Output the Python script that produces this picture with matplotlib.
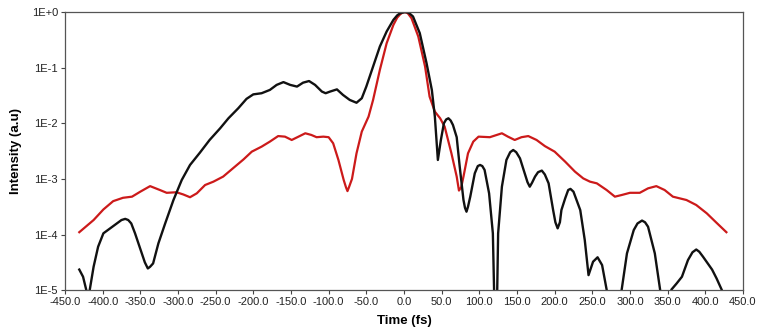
import matplotlib
matplotlib.use("Agg")
import matplotlib.pyplot as plt
from matplotlib.ticker import FixedLocator, FuncFormatter

# red trace: time (fs) and intensity (a.u)
red_t = [-431, -412, -399, -386, -373, -361, -350, -337, -324, -315, -302, -293,
         -284, -275, -264, -253, -240, -227, -213, -202, -189, -178, -167, -158,
         -149, -140, -131, -123, -116, -107, -100, -94, -87, -80, -77, -75, -73,
         -69, -63, -56, -47, -41, -32, -23, -14, -9, -5, -2, 1, 5, 10, 19, 28, 34,
         41, 48, 54, 63, 70, 73, 76, 79, 85, 92, 99, 114, 130, 138, 147, 156, 165,
         176, 187, 200, 214, 227, 238, 247, 256, 269, 280, 289, 300, 313, 324,
         335, 346, 357, 375, 388, 402, 415, 428]
red_i = [1.10e-4, 1.82e-4, 2.82e-4, 3.98e-4, 4.57e-4, 4.79e-4, 5.89e-4, 7.41e-4,
         6.31e-4, 5.62e-4, 5.75e-4, 5.25e-4, 4.68e-4, 5.50e-4, 7.76e-4, 8.91e-4,
         1.10e-3, 1.55e-3, 2.24e-3, 3.09e-3, 3.80e-3, 4.68e-3, 5.89e-3, 5.75e-3,
         5.01e-3, 5.75e-3, 6.61e-3, 6.17e-3, 5.62e-3, 5.75e-3, 5.62e-3, 4.37e-3,
         2.19e-3, 9.55e-4, 7.08e-4, 6.03e-4, 7.08e-4, 1.0e-3, 2.88e-3, 7.08e-3,
         1.32e-2, 2.63e-2, 9.12e-2, 0.275, 0.589, 0.794, 0.912, 0.977, 1.0, 0.955,
         0.776, 0.363, 0.105, 3.02e-2, 1.62e-2, 1.23e-2, 8.71e-3, 2.88e-3, 1.10e-3,
         6.17e-4, 7.08e-4, 1.10e-3, 2.88e-3, 4.68e-3, 5.75e-3, 5.62e-3, 6.61e-3,
         5.75e-3, 5.01e-3, 5.62e-3, 5.89e-3, 5.01e-3, 3.89e-3, 3.09e-3, 2.04e-3,
         1.35e-3, 1.02e-3, 8.91e-4, 8.32e-4, 6.31e-4, 4.79e-4, 5.13e-4, 5.62e-4,
         5.62e-4, 6.76e-4, 7.41e-4, 6.31e-4, 4.79e-4, 4.17e-4, 3.39e-4, 2.40e-4,
         1.62e-4, 1.10e-4]

# black trace
black_t = [-431, -426, -419, -412, -406, -399, -390, -381, -375, -370, -366, -362,
           -357, -348, -344, -340, -337, -333, -326, -317, -306, -295, -284, -271,
           -258, -244, -233, -220, -209, -200, -189, -178, -169, -160, -151, -142,
           -134, -126, -118, -109, -104, -98, -89, -81, -72, -63, -56, -50, -41,
           -32, -23, -14, -9, -5, 0, 3, 7, 12, 21, 30, 37, 41, 45, 49, 53, 56, 59,
           62, 65, 70, 74, 79, 81, 83, 85, 88, 94, 98, 101, 104, 107, 113, 118, 122,
           125, 130, 136, 141, 145, 149, 154, 161, 164, 167, 170, 174, 178, 183,
           187, 192, 198, 201, 204, 207, 209, 214, 218, 221, 225, 234, 240, 245,
           251, 257, 263, 269, 280, 289, 296, 305, 310, 316, 320, 324, 333, 340,
           348, 355, 362, 369, 377, 383, 388, 392, 397, 409, 415, 422, 428]
black_i = [2.34e-5, 1.74e-5, 7.1e-6, 2.63e-5, 6.03e-5, 1.05e-4, 1.29e-4, 1.58e-4,
           1.82e-4, 1.91e-4, 1.82e-4, 1.58e-4, 1.05e-4, 4.57e-5, 3.16e-5, 2.45e-5,
           2.63e-5, 3.02e-5, 6.92e-5, 1.58e-4, 4.17e-4, 9.55e-4, 1.78e-3, 2.95e-3,
           5.01e-3, 8.13e-3, 1.23e-2, 1.86e-2, 2.75e-2, 3.31e-2, 3.47e-2, 3.98e-2,
           4.90e-2, 5.50e-2, 4.90e-2, 4.57e-2, 5.37e-2, 5.75e-2, 4.90e-2, 3.72e-2,
           3.47e-2, 3.72e-2, 4.07e-2, 3.24e-2, 2.63e-2, 2.34e-2, 2.82e-2, 4.57e-2,
           0.105, 0.240, 0.447, 0.724, 0.871, 0.955, 0.99, 1.0, 0.955, 0.832, 0.417,
           0.120, 3.98e-2, 1.32e-2, 2.19e-3, 5.01e-3, 1.0e-2, 1.17e-2, 1.23e-2,
           1.12e-2, 9.33e-3, 5.62e-3, 1.66e-3, 4.17e-4, 3.02e-4, 2.57e-4, 3.16e-4,
           4.79e-4, 1.26e-3, 1.70e-3, 1.78e-3, 1.70e-3, 1.45e-3, 5.50e-4, 1.05e-4,
           3.2e-7, 1.05e-4, 7.24e-4, 2.19e-3, 3.02e-3, 3.31e-3, 3.02e-3, 2.34e-3,
           1.17e-3, 8.71e-4, 7.24e-4, 8.51e-4, 1.10e-3, 1.32e-3, 1.41e-3, 1.20e-3,
           8.32e-4, 2.75e-4, 1.66e-4, 1.29e-4, 1.66e-4, 2.75e-4, 4.47e-4, 6.31e-4,
           6.61e-4, 5.89e-4, 2.75e-4, 7.94e-5, 1.86e-5, 3.24e-5, 3.89e-5, 2.82e-5,
           1.02e-5, 1.6e-6, 1.02e-5, 4.57e-5, 1.20e-4, 1.58e-4, 1.78e-4, 1.66e-4,
           1.38e-4, 4.57e-5, 1.02e-5, 1.6e-6, 1.02e-5, 1.32e-5, 1.74e-5, 3.47e-5,
           4.79e-5, 5.37e-5, 4.90e-5, 3.98e-5, 2.34e-5, 1.62e-5, 1.0e-5, 5.0e-6]

x_ticks = [-450, -400, -350, -300, -250, -200, -150, -100, -50, 0,
           50, 100, 150, 200, 250, 300, 350, 400, 450]
y_ticks = [1e-5, 1e-4, 1e-3, 1e-2, 1e-1, 1e0]
y_labels = ["1E-5", "1E-4", "1E-3", "1E-2", "1E-1", "1E+0"]

plt.rcParams['font.family'] = ['Liberation Sans', 'DejaVu Sans']

fig = plt.figure(figsize=(7.68, 3.35), dpi=100)
ax = fig.add_axes([0.0846, 0.134, 0.8828, 0.830])

ax.plot(red_t, red_i, color='#cc1a1a', linewidth=1.6, solid_joinstyle='round')
ax.plot(black_t, black_i, color='#111111', linewidth=1.7, solid_joinstyle='round')

ax.set_yscale('log')
ax.set_xlim(-450, 450)
ax.set_ylim(1e-5, 1)

ax.xaxis.set_major_locator(FixedLocator(x_ticks))
ax.xaxis.set_major_formatter(FuncFormatter(lambda v, p: f"{v:.1f}"))
ax.xaxis.set_minor_locator(FixedLocator([]))
ax.yaxis.set_major_locator(FixedLocator(y_ticks))
ax.set_yticklabels(y_labels)
ax.yaxis.set_minor_locator(FixedLocator([]))

ax.tick_params(axis='both', direction='out', length=3, width=0.8,
               labelsize=8, color='#444444', labelcolor='#222222', pad=2)
for s in ax.spines.values():
    s.set_color('#555555')
    s.set_linewidth(0.9)

ax.set_xlabel('Time (fs)', fontsize=9.5, fontweight='bold')
ax.set_ylabel('Intensity (a.u)', fontsize=9.5, fontweight='bold')
ax.xaxis.set_label_coords(0.5, -0.09)
ax.yaxis.set_label_coords(-0.063, 0.5)

plt.savefig('out.png', dpi=100)
plt.close()
